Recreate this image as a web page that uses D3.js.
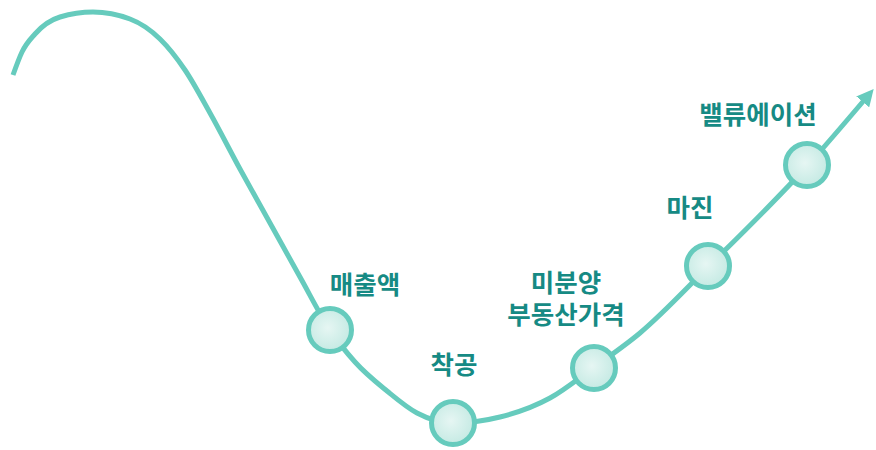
<!DOCTYPE html>
<html><head><meta charset="utf-8">
<script src="https://cdn.jsdelivr.net/npm/d3@7"></script>
<style>html,body{margin:0;padding:0;background:#fff;}svg{display:block;}</style>
</head><body>
<script>
// Curve path (x, y in chart units: x 0..876 left→right, y 0..450 top→bottom)
const curveX = [13, 22, 35, 60, 93, 130, 160, 185, 210, 240, 270, 300, 330, 355, 387, 417, 453, 500, 550, 593, 640, 708, 808, 866];
const curveY = [75, 52, 34, 17, 12, 19, 39, 70, 113, 169, 223, 277, 330, 362, 391, 413, 423, 417, 398, 368, 333, 267, 165, 98];
// Stages
const stageLabels = [["매출액"], ["착공"], ["미분양", "부동산가격"], ["마진"], ["밸류에이션"]];
const stageX = [330, 453, 594, 708, 807];
const stageY = [330, 423, 368, 266, 165];
const labelX = [365, 454, 566, 690, 758];
const labelY = [294, 374, 324, 217, 124];

const W = 876, H = 450;
const x = d3.scaleLinear().domain([0, 876]).range([0, W]);
const y = d3.scaleLinear().domain([0, 450]).range([0, H]);

const svg = d3.select("body").append("svg").attr("width", W).attr("height", H);
const defs = svg.append("defs");
const grad = defs.append("radialGradient").attr("id", "g").attr("cx", "45%").attr("cy", "45%").attr("r", "60%");
grad.append("stop").attr("offset", "0%").attr("stop-color", "#e6f6f3");
grad.append("stop").attr("offset", "100%").attr("stop-color", "#c2e9e2");
defs.append("marker").attr("id", "arr").attr("viewBox", "0 0 10 10").attr("refX", 3).attr("refY", 5)
  .attr("markerWidth", 3.4).attr("markerHeight", 3.4).attr("orient", "auto")
  .append("path").attr("d", "M0,0 L10,5 L0,10 z").attr("fill", "#66cbbd");

const pts = curveX.map((v, i) => [v, curveY[i]]);
const line = d3.line().x(d => x(d[0])).y(d => y(d[1])).curve(d3.curveMonotoneX);
svg.append("path").attr("d", line(pts)).attr("fill", "none").attr("stroke", "#66cbbd")
  .attr("stroke-width", 5).attr("stroke-linecap", "butt").attr("marker-end", "url(#arr)");

const g = svg.selectAll("g.s").data(stageX).enter().append("g");
g.append("circle").attr("cx", (d) => x(d)).attr("cy", (d, i) => y(stageY[i])).attr("r", 21.5)
  .attr("fill", "url(#g)").attr("stroke", "#66cbbd").attr("stroke-width", 5);

stageLabels.forEach((lines, i) => {
  const t = svg.append("text").attr("text-anchor", "middle")
    .attr("font-family", "'Noto Sans CJK KR', sans-serif").attr("font-weight", "bold")
    .attr("font-size", 25.5).attr("fill", "#168a84");
  const n = lines.length;
  lines.forEach((s, j) => {
    t.append("tspan").attr("x", x(labelX[i])).attr("y", y(labelY[i] - (n - 1 - j) * 32)).text(s);
  });
});
</script>
</body></html>
